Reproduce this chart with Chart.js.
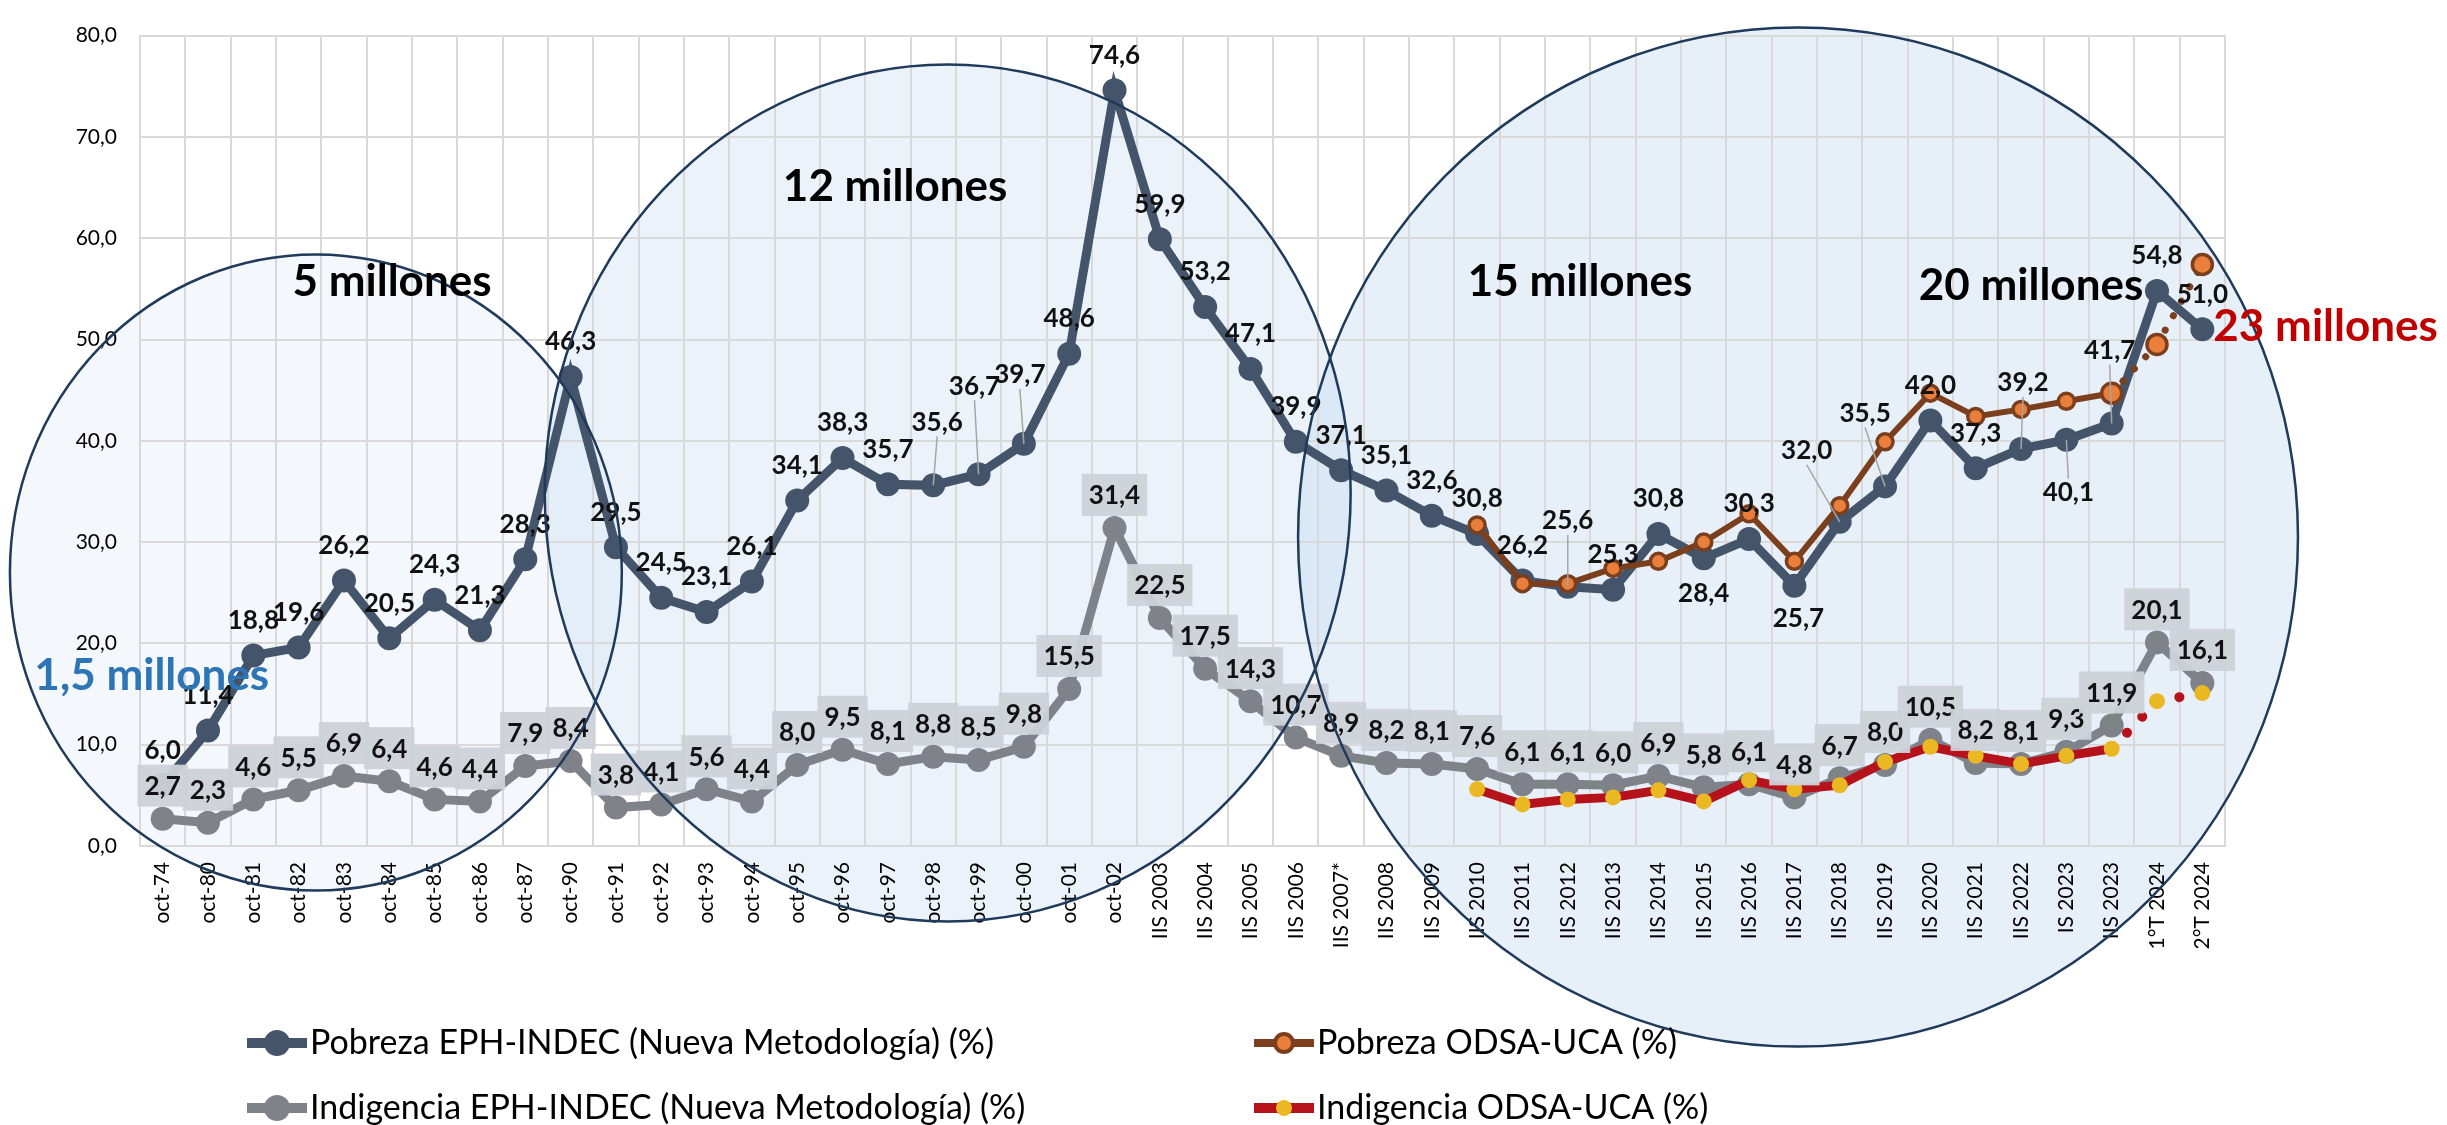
<!DOCTYPE html>
<html>
<head>
<meta charset="utf-8">
<script src="https://cdn.jsdelivr.net/npm/chart.js"></script>
<style>
  html, body { margin: 0; padding: 0; background: #fff; }
  #wrap { width: 2447px; height: 1125px; }
</style>
</head>
<body>
<div id="wrap"><canvas id="myChart" width="2447" height="1125"></canvas></div>
<script>
// DATA
const categories = ['oct-74', 'oct-80', 'oct-81', 'oct-82', 'oct-83', 'oct-84', 'oct-85', 'oct-86', 'oct-87', 'oct-90',
    'oct-91', 'oct-92', 'oct-93', 'oct-94', 'oct-95', 'oct-96', 'oct-97', 'oct-98', 'oct-99', 'oct-00', 'oct-01', 'oct-02',
    'IIS 2003', 'IIS 2004', 'IIS 2005', 'IIS 2006', 'IIS 2007*', 'IIS 2008', 'IIS 2009', 'IIS 2010', 'IIS 2011', 'IIS 2012',
    'IIS 2013', 'IIS 2014', 'IIS 2015', 'IIS 2016', 'IIS 2017', 'IIS 2018', 'IIS 2019', 'IIS 2020', 'IIS 2021', 'IIS 2022',
    'IS 2023', 'IIS 2023', '1°T 2024', '2°T 2024'];

const pobrezaEPH = [6.0, 11.4, 18.8, 19.6, 26.2, 20.5, 24.3, 21.3, 28.3, 46.3,
    29.5, 24.5, 23.1, 26.1, 34.1, 38.3, 35.7, 35.6, 36.7, 39.7,
    48.6, 74.6, 59.9, 53.2, 47.1, 39.9, 37.1, 35.1, 32.6, 30.8,
    26.2, 25.6, 25.3, 30.8, 28.4, 30.3, 25.7, 32.0, 35.5, 42.0,
    37.3, 39.2, 40.1, 41.7, 54.8, 51.0];

const indigenciaEPH = [2.7, 2.3, 4.6, 5.5, 6.9, 6.4, 4.6, 4.4, 7.9, 8.4,
    3.8, 4.1, 5.6, 4.4, 8.0, 9.5, 8.1, 8.8, 8.5, 9.8,
    15.5, 31.4, 22.5, 17.5, 14.3, 10.7, 8.9, 8.2, 8.1, 7.6,
    6.1, 6.1, 6.0, 6.9, 5.8, 6.1, 4.8, 6.7, 8.0, 10.5,
    8.2, 8.1, 9.3, 11.9, 20.1, 16.1];

// ODSA series start at IIS 2010 (index 29)
const pobrezaODSA = [null, null, null, null, null, null, null, null, null, null,
    null, null, null, null, null, null, null, null, null, null,
    null, null, null, null, null, null, null, null, null, 31.7,
    25.9, 25.9, 27.4, 28.1, 30.0, 32.8, 28.1, 33.6, 39.9, 44.7,
    42.4, 43.1, 43.9, 44.7, 49.5, 57.4];

const indigenciaODSA = [null, null, null, null, null, null, null, null, null, null,
    null, null, null, null, null, null, null, null, null, null,
    null, null, null, null, null, null, null, null, null, 5.6,
    4.1, 4.6, 4.8, 5.5, 4.4, 6.5, 5.6, 6.0, 8.3, 9.8,
    8.9, 8.1, 8.9, 9.6, 14.3, 15.1];

const yTicks = [0, 10, 20, 30, 40, 50, 60, 70, 80];

const seriesNames = ['Pobreza EPH-INDEC (Nueva Metodología) (%)', 'Pobreza ODSA-UCA (%)',
    'Indigencia EPH-INDEC (Nueva Metodología) (%)', 'Indigencia ODSA-UCA (%)'];

// LAYOUT (label shifts in px: [dx, dy, leader line])
const pobrezaLabelShift = {
    17: [4, -63, true], 18: [-4, -88, true], 19: [-4, -69, true], 31: [0, -66, true],
    34: [0, 35, false], 36: [4, 33, false], 37: [-33, -71, true], 38: [-20, -73, true],
    41: [2, -66, true], 42: [2, 53, true], 43: [-2, -73, true]
};

// circles: centre in (category index, value), radii in category / value units
const zones = [
    { cx: 3.38, cy: 27.0, rx: 6.75, ry: 31.4, fill: 'rgba(197,217,241,0.19)' },
    { cx: 17.32, cy: 34.85, rx: 8.89, ry: 42.3, fill: 'rgba(197,217,241,0.34)' },
    { cx: 36.08, cy: 30.5, rx: 11.03, ry: 50.3, fill: 'rgba(197,217,241,0.42)' }
];

const zoneTexts = [
    { text: '5 millones', x: 5.06, y: 55.7, color: '#000' },
    { text: '12 millones', x: 16.16, y: 65.1, color: '#000' },
    { text: '15 millones', x: 31.27, y: 55.7, color: '#000' },
    { text: '20 millones', x: 41.22, y: 55.3, color: '#000' },
    { text: '23 millones', x: 47.72, y: 51.3, color: '#C00000' },
    { text: '1,5 millones', x: -0.24, y: 16.8, color: '#2E75B6' }
];

const C_EPH = '#44546A';
const C_IND = '#7F8389';
const C_ODSA = '#7B3F1E';
const C_ODSA_DOT = '#E97F3B';
const C_RED = '#B5121B';
const C_YEL = '#E9B822';

function fmt(v) {
    return v.toFixed(1).replace('.', ',');
}

function zonePath(ctx, xs, ys, z) {
    const cx = xs.getPixelForValue(z.cx), cy = ys.getPixelForValue(z.cy);
    const rx = xs.getPixelForValue(z.cx + z.rx) - cx;
    const ry = cy - ys.getPixelForValue(z.cy + z.ry);
    ctx.beginPath();
    ctx.ellipse(cx, cy, rx, ry, 0, 0, Math.PI * 2);
}

Chart.defaults.font.family = 'Lato';
Chart.defaults.color = '#000';

const overlayPlugin = {
    id: 'overlay',
    beforeDraw(chart) {
        // circle fills go first, under grid, tick labels and lines
        const ctx = chart.ctx;
        ctx.save();
        zones.forEach(z => {
            zonePath(ctx, chart.scales.x, chart.scales.y, z);
            ctx.fillStyle = z.fill;
            ctx.fill();
        });
        ctx.restore();
    },
    afterDatasetsDraw(chart) {
        const ctx = chart.ctx;
        const xs = chart.scales.x, ys = chart.scales.y;
        ctx.save();
        ctx.font = 'bold 26px Lato';
        ctx.textAlign = 'center';
        ctx.textBaseline = 'middle';

        // indigencia EPH labels in grey boxes
        indigenciaEPH.forEach((v, i) => {
            const px = xs.getPixelForValue(i), py = ys.getPixelForValue(v);
            const t = fmt(v);
            const w = ctx.measureText(t).width + 14;
            const cy = py - 33;
            ctx.fillStyle = 'rgba(206,210,216,0.95)';
            ctx.fillRect(px - w / 2, cy - 21, w, 42);
            ctx.fillStyle = '#111';
            ctx.fillText(t, px, cy + 1);
        });

        // pobreza EPH labels
        pobrezaEPH.forEach((v, i) => {
            const px = xs.getPixelForValue(i), py = ys.getPixelForValue(v);
            const s = pobrezaLabelShift[i] || [0, -35, false];
            const lx = px + s[0], ly = py + s[1];
            if (s[2]) {
                ctx.strokeStyle = '#A6A6A6';
                ctx.lineWidth = 1.5;
                ctx.beginPath();
                ctx.moveTo(lx, ly + (s[1] < 0 ? 14 : -14));
                ctx.lineTo(px, py);
                ctx.stroke();
            }
            ctx.fillStyle = '#111';
            ctx.fillText(fmt(v), lx, ly);
        });

        // circle outlines on top
        zones.forEach(z => {
            zonePath(ctx, xs, ys, z);
            ctx.strokeStyle = '#1F3A5A';
            ctx.lineWidth = 2.5;
            ctx.stroke();
        });

        ctx.font = 'bold 44px Lato';
        zoneTexts.forEach(t => {
            ctx.fillStyle = t.color;
            ctx.fillText(t.text, xs.getPixelForValue(t.x), ys.getPixelForValue(t.y));
        });
        ctx.restore();
    },
    afterDraw(chart) {
        // legend
        const ctx = chart.ctx;
        ctx.save();
        const items = [
            { x: 247, y: 1043, line: C_EPH, lw: 10, dot: C_EPH, ring: null, r: 13, text: seriesNames[0] },
            { x: 1254, y: 1043, line: C_ODSA, lw: 8, dot: C_ODSA_DOT, ring: C_ODSA, r: 9, text: seriesNames[1] },
            { x: 247, y: 1108, line: C_IND, lw: 10, dot: C_IND, ring: null, r: 13, text: seriesNames[2] },
            { x: 1254, y: 1108, line: C_RED, lw: 10, dot: C_YEL, ring: null, r: 8, text: seriesNames[3] }
        ];
        items.forEach(it => {
            ctx.strokeStyle = it.line;
            ctx.lineWidth = it.lw;
            ctx.beginPath();
            ctx.moveTo(it.x, it.y);
            ctx.lineTo(it.x + 60, it.y);
            ctx.stroke();
            ctx.beginPath();
            ctx.arc(it.x + 30, it.y, it.r, 0, Math.PI * 2);
            ctx.fillStyle = it.dot;
            ctx.fill();
            if (it.ring) {
                ctx.strokeStyle = it.ring;
                ctx.lineWidth = 4;
                ctx.stroke();
            }
            ctx.fillStyle = '#000';
            ctx.font = '34px Lato';
            ctx.textAlign = 'left';
            ctx.textBaseline = 'middle';
            ctx.fillText(it.text, it.x + 63, it.y);
        });
        ctx.restore();
    }
};

const dotted = (from, gap) => ctx => ctx.p0DataIndex >= from ? [0.1, gap] : undefined;

new Chart(document.getElementById('myChart'), {
    type: 'line',
    data: {
        labels: categories,
        datasets: [{
            label: seriesNames[0],
            data: pobrezaEPH,
            borderColor: C_EPH,
            backgroundColor: C_EPH,
            borderWidth: 9,
            pointRadius: 12,
            pointBorderWidth: 0,
            pointBackgroundColor: C_EPH,
            tension: 0,
            order: 3
        }, {
            label: seriesNames[1],
            data: pobrezaODSA,
            borderColor: C_ODSA,
            borderWidth: 6,
            pointRadius: ctx => ctx.dataIndex >= 43 ? 10 : 8,
            pointBorderWidth: 3.5,
            pointBorderColor: C_ODSA,
            pointBackgroundColor: C_ODSA_DOT,
            tension: 0,
            order: 1,
            segment: {
                borderDash: dotted(43, 16.5),
                borderCapStyle: ctx => ctx.p0DataIndex >= 43 ? 'round' : 'butt',
                borderWidth: ctx => ctx.p0DataIndex >= 43 ? 7 : 6
            }
        }, {
            label: seriesNames[2],
            data: indigenciaEPH,
            borderColor: C_IND,
            backgroundColor: C_IND,
            borderWidth: 9,
            pointRadius: 12,
            pointBorderWidth: 0,
            pointBackgroundColor: C_IND,
            tension: 0,
            order: 4
        }, {
            label: seriesNames[3],
            data: indigenciaODSA,
            borderColor: C_RED,
            borderWidth: 9,
            pointRadius: 8,
            pointBorderWidth: 0,
            pointBackgroundColor: C_YEL,
            tension: 0,
            order: 2,
            segment: {
                borderDash: dotted(43, 22),
                borderCapStyle: ctx => ctx.p0DataIndex >= 43 ? 'round' : 'butt',
                borderWidth: ctx => ctx.p0DataIndex >= 43 ? 10 : 9
            }
        }]
    },
    options: {
        responsive: false,
        animation: false,
        devicePixelRatio: 1,
        events: [],
        layout: { padding: { top: 22, right: 222, bottom: 0, left: 0 } },
        plugins: {
            legend: { display: false },
            tooltip: { enabled: false }
        },
        scales: {
            x: {
                offset: true,
                grid: { offset: true, color: '#D9D9D9', lineWidth: 2, drawTicks: false },
                border: { color: '#D9D9D9', width: 2 },
                ticks: {
                    autoSkip: false,
                    maxRotation: 90,
                    minRotation: 90,
                    padding: 16,
                    font: { size: 21 },
                    color: '#000'
                },
                afterFit: s => { s.height = 279; }
            },
            y: {
                min: 0,
                max: 80,
                afterBuildTicks: s => { s.ticks = yTicks.map(v => ({ value: v })); },
                grid: { color: '#D9D9D9', lineWidth: 2, drawTicks: false },
                border: { color: '#D9D9D9', width: 2 },
                ticks: {
                    padding: 23,
                    font: { size: 21 },
                    color: '#000',
                    callback: v => fmt(v)
                },
                afterFit: s => { s.width = 140; }
            }
        }
    },
    plugins: [overlayPlugin]
});
</script>
</body>
</html>
